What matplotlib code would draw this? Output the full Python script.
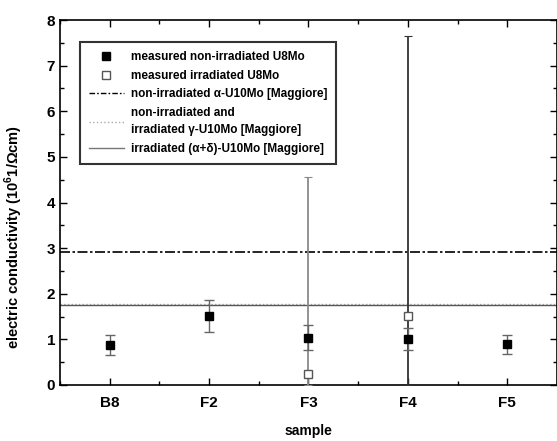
import numpy as np
import matplotlib.pyplot as plt
from matplotlib.lines import Line2D
from matplotlib.ticker import MultipleLocator

plt.rcParams['font.family'] = ['Liberation Sans', 'DejaVu Sans']
plt.rcParams['mathtext.fontset'] = 'custom'
plt.rcParams['mathtext.bf'] = 'Liberation Sans:bold'
plt.rcParams['mathtext.rm'] = 'Liberation Sans'

# samples and measured values
samples = ['B8', 'F2', 'F3', 'F4', 'F5']
nonirr_val = [0.88, 1.51, 1.04, 1.00, 0.89]
nonirr_err = [0.22, 0.35, 0.27, 0.24, 0.20]

irr_samples = ['F3', 'F4']
irr_val = [0.24, 1.51]
irr_err_lo = [0.24, 1.51]
irr_err_hi = [4.31, 6.13]
irr_colors = ['#8a8a8a', '#333333']

# reference values [Maggiore]
alpha_ref = 2.91
gamma_ref = 1.77
alphadelta_ref = 1.75

fig = plt.figure(figsize=(5.57, 4.41), dpi=100)
ax = fig.add_axes([0.1077, 0.127, 0.8923, 0.8276])

x = np.arange(1, len(samples) + 1)
x_irr = [samples.index(s) + 1 for s in irr_samples]

# reference lines
dashdot = (6, 1.5, 1.5, 1.5)
ax.axhline(alpha_ref, color='black', lw=1.2, dashes=dashdot)
ax.axhline(gamma_ref, color='#aaaaaa', lw=1.0, ls=':')
ax.axhline(alphadelta_ref, color='#555555', lw=1.0)

# irradiated errorbars
for xi, v, lo, hi, c in zip(x_irr, irr_val, irr_err_lo, irr_err_hi, irr_colors):
    ax.errorbar([xi], [v], yerr=[[lo], [hi]], fmt='none', ecolor=c,
                elinewidth=1.3, capsize=3, capthick=0.8, zorder=3)

ax.errorbar(x, nonirr_val, yerr=nonirr_err, fmt='s', color='black',
            ecolor='#666666', elinewidth=1.0, capsize=3.5, capthick=1.0,
            markersize=6, zorder=4)
ax.plot(x_irr, irr_val, 's', mfc='white', mec='#555555', mew=1.0,
        markersize=6, zorder=5)

ax.set_xlim(0.5, 5.5)
ax.set_ylim(0, 8)
ax.set_xticks(x)
ax.set_xticklabels(samples)
ax.xaxis.set_minor_locator(MultipleLocator(0.5))
ax.yaxis.set_major_locator(MultipleLocator(1))
ax.yaxis.set_minor_locator(MultipleLocator(0.5))
ax.tick_params(which='both', direction='in', top=True, right=True,
               labelsize=11, width=1.0)
ax.tick_params(which='major', length=5)
ax.tick_params(which='minor', length=3)
ax.tick_params(axis='x', pad=8)
for lab in ax.get_xticklabels() + ax.get_yticklabels():
    lab.set_fontweight('bold')
for sp in ax.spines.values():
    sp.set_linewidth(1.2)

ax.set_xlabel('sample', fontsize=10, fontweight='bold', labelpad=10)
ax.set_ylabel(r'electric conductivity (10$^{\mathbf{6}}$1/Ωcm)',
              fontsize=10.5, fontweight='bold')
ax.yaxis.set_label_coords(-0.07, 0.405)

# legend
handles = [
    Line2D([], [], ls='none', marker='s', color='black', markersize=6),
    Line2D([], [], ls='none', marker='s', mfc='white', mec='#555555',
           mew=1.0, markersize=6),
    Line2D([], [], color='black', lw=1.0, dashes=(4, 1.5, 1.2, 1.5)),
    Line2D([], [], color='#aaaaaa', lw=1.0, ls=':'),
    Line2D([], [], color='#777777', lw=1.0),
]
labels = [
    'measured non-irradiated U8Mo',
    'measured irradiated U8Mo',
    'non-irradiated α-U10Mo [Maggiore]',
    'non-irradiated and\nirradiated γ-U10Mo [Maggiore]',
    'irradiated (α+δ)-U10Mo [Maggiore]',
]
leg = ax.legend(handles, labels, loc='upper left', bbox_to_anchor=(0.04, 0.94),
                prop={'size': 8.5, 'weight': 'bold'}, frameon=True,
                fancybox=False, edgecolor='black', handlelength=2.9,
                labelspacing=0.55, borderpad=0.8, borderaxespad=0.0,
                handletextpad=0.6)
leg.get_frame().set_linewidth(1.5)
leg.get_texts()[3].set_linespacing(1.6)

fig.savefig('out.png', dpi=100)
